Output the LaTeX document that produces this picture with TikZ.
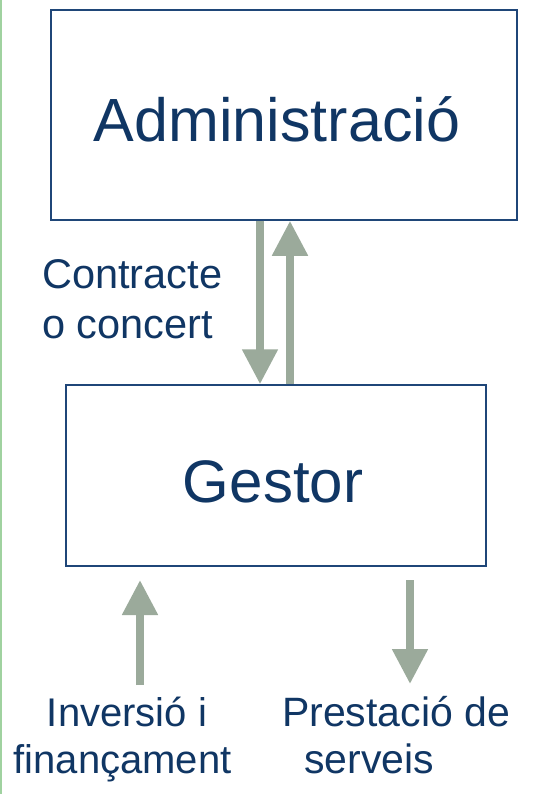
\documentclass[tikz,border=0pt]{standalone}
\usepackage{fontspec}
\setmainfont{Liberation Sans}
\usetikzlibrary{arrows.meta}
\definecolor{txtblue}{RGB}{16,54,100}
\definecolor{boxblue}{RGB}{31,70,120}
\definecolor{arrgrey}{RGB}{155,170,155}
\definecolor{sidegreen}{RGB}{160,210,160}
\tikzset{
  box/.style={draw=boxblue, line width=1.5pt, inner sep=0pt, fill=white},
  lbl/.style={text=txtblue, anchor=base, inner sep=0pt},
  bigarrow/.style={draw=arrgrey, line width=8pt, -{Triangle[width=34pt,length=35pt]}},
}
\begin{document}
\begin{tikzpicture}[x=1pt,y=-1pt]
\useasboundingbox (0,0) rectangle (541,794);
\fill[white] (0,0) rectangle (541,794);
\draw[sidegreen, line width=2pt] (1,0) -- (1,794);
% boxes
\node[box, minimum width=466pt, minimum height=210pt] (admin) at (284,115) {};
\node[box, minimum width=420pt, minimum height=181pt] (gestor) at (276,475.5) {};
% box texts
\node[lbl, font=\fontsize{61}{70}\selectfont] (admintxt) at (277,142) {Administració};
\node[lbl, font=\fontsize{60}{70}\selectfont] (gestortxt) at (273,502) {Gestor};
% side label
\node[lbl, anchor=base west, font=\fontsize{41.5}{50}\selectfont] (c1) at (42,288) {Contracte};
\node[lbl, anchor=base west, font=\fontsize{41.5}{50}\selectfont] (c2) at (42,338) {o concert};
% bottom labels
\node[lbl, font=\fontsize{40}{47}\selectfont] (i1) at (127,726) {Inversió i};
\node[lbl, font=\fontsize{40}{47}\selectfont] (i2) at (122.5,773) {finançament};
\node[lbl, font=\fontsize{41}{47}\selectfont] (p1) at (396,726) {Prestació de};
\node[lbl, font=\fontsize{41}{47}\selectfont] (p2) at (369,773) {serveis};
% arrows between boxes
\coordinate (xd) at (260,0);
\coordinate (xu) at (290,0);
\draw[bigarrow] (admin.south -| xd) -- (gestor.north -| xd);
\draw[bigarrow] (gestor.north -| xu) -- (admin.south -| xu);
% bottom arrows
\coordinate (inbot) at (140,685);
\coordinate (intop) at (140,580);
\coordinate (outtop) at (410,580);
\coordinate (outbot) at (410,684);
\draw[bigarrow] (inbot) -- (intop);
\draw[bigarrow] (outtop) -- (outbot);
\end{tikzpicture}
\end{document}
